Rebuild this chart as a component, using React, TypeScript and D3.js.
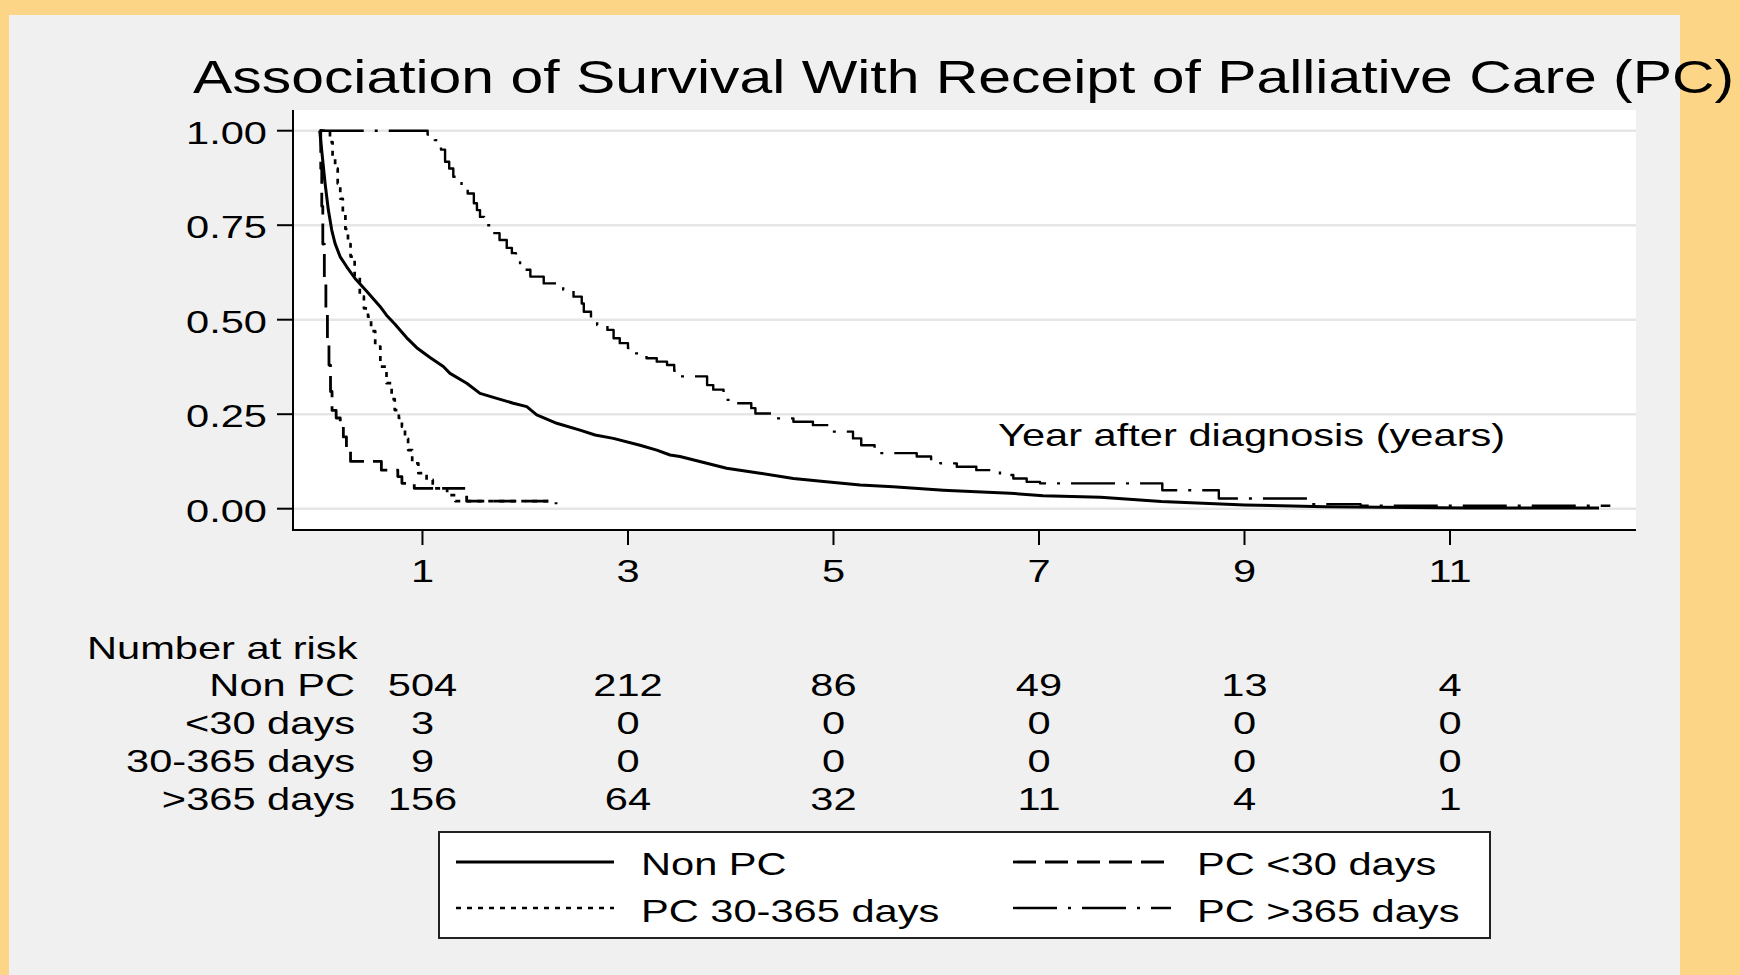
import React from "react";
import * as d3 from "d3";

// ---------- data ----------
const X_TICKS = [1, 3, 5, 7, 9, 11];
const Y_TICKS = [0, 0.25, 0.5, 0.75, 1];
const Y_TICK_LABELS = ["0.00", "0.25", "0.50", "0.75", "1.00"];

const SERIES_NAMES = ["Non PC", "PC <30 days", "PC 30-365 days", "PC >365 days"];
const RISK_GROUPS = ["Non PC", "<30 days", "30-365 days", ">365 days"];
const RISK_NON_PC = [504, 212, 86, 49, 13, 4];
const RISK_LT30 = [3, 0, 0, 0, 0, 0];
const RISK_30_365 = [9, 0, 0, 0, 0, 0];
const RISK_GT365 = [156, 64, 32, 11, 4, 1];

// survival curves: [years, survival]
const NON_PC: [number, number][] = [
  [0, 1], [0.019, 0.949], [0.052, 0.861], [0.084, 0.79], [0.117, 0.737], [0.149, 0.702],
  [0.198, 0.667], [0.263, 0.64], [0.344, 0.609], [0.457, 0.575], [0.587, 0.535],
  [0.65, 0.512], [0.733, 0.488], [0.8, 0.467], [0.847, 0.452], [0.944, 0.426],
  [1.073, 0.4], [1.203, 0.376], [1.268, 0.358], [1.431, 0.332], [1.56, 0.305],
  [1.723, 0.292], [1.884, 0.279], [2.015, 0.27], [2.112, 0.248], [2.307, 0.226],
  [2.533, 0.208], [2.68, 0.195], [2.857, 0.186], [3.117, 0.168], [3.28, 0.155],
  [3.41, 0.142], [3.506, 0.138], [3.96, 0.107], [4.285, 0.094], [4.61, 0.08],
  [4.93, 0.071], [5.26, 0.063], [5.58, 0.058], [6.07, 0.049], [6.39, 0.045],
  [6.72, 0.041], [7.04, 0.034], [7.6, 0.03], [8.19, 0.019], [9.0, 0.01], [9.78, 0.005],
  [11.17, 0.002], [12.45, 0.002],
];
const PC_LT30: [number, number][] = [
  [0, 1], [0.01, 0.9], [0.02, 0.8], [0.03, 0.7], [0.045, 0.6], [0.06, 0.52], [0.075, 0.45],
  [0.09, 0.38], [0.105, 0.31], [0.12, 0.26], [0.16, 0.24], [0.2, 0.22], [0.23, 0.19],
  [0.26, 0.16], [0.3, 0.125], [0.6, 0.102], [0.76, 0.085], [0.8, 0.067], [0.92, 0.054],
  [1.43, 0.02], [2.3, 0.012],
];
const PC_30_365: [number, number][] = [
  [0, 1], [0.1, 0.97], [0.125, 0.93], [0.15, 0.9], [0.175, 0.86], [0.2, 0.82], [0.225, 0.78],
  [0.25, 0.74], [0.275, 0.7], [0.3, 0.667], [0.34, 0.614], [0.39, 0.561], [0.43, 0.53],
  [0.47, 0.508], [0.5, 0.47], [0.54, 0.429], [0.59, 0.376], [0.65, 0.332], [0.7, 0.29],
  [0.73, 0.261], [0.77, 0.24], [0.8, 0.217], [0.83, 0.185], [0.86, 0.155], [0.9, 0.12],
  [0.96, 0.094], [1.04, 0.076], [1.1, 0.054], [1.24, 0.036], [1.32, 0.02], [2.25, 0.018],
];
const PC_GT365: [number, number][] = [
  [0, 1], [1.05, 0.99], [1.12, 0.975], [1.18, 0.95], [1.22, 0.918], [1.26, 0.9], [1.3, 0.878],
  [1.38, 0.855], [1.44, 0.834], [1.5, 0.808], [1.53, 0.79], [1.56, 0.772], [1.6, 0.75],
  [1.66, 0.729], [1.75, 0.711], [1.82, 0.69], [1.87, 0.676], [1.91, 0.655], [1.95, 0.632],
  [2.05, 0.614], [2.18, 0.596], [2.37, 0.579], [2.47, 0.561], [2.55, 0.543], [2.57, 0.521],
  [2.64, 0.5], [2.7, 0.486], [2.8, 0.473], [2.86, 0.451], [2.92, 0.438], [3.0, 0.425],
  [3.05, 0.411], [3.18, 0.398], [3.28, 0.389], [3.38, 0.38], [3.45, 0.365], [3.51, 0.35],
  [3.77, 0.327], [3.83, 0.315], [3.93, 0.288], [4.06, 0.279], [4.2, 0.266], [4.24, 0.252],
  [4.45, 0.239], [4.61, 0.23], [4.8, 0.221], [4.98, 0.204], [5.19, 0.186], [5.27, 0.168],
  [5.4, 0.155], [5.45, 0.147], [5.81, 0.138], [5.95, 0.128], [6.04, 0.12], [6.2, 0.111],
  [6.39, 0.102], [6.62, 0.089], [6.75, 0.08], [6.88, 0.071], [7.01, 0.067], [8.2, 0.049],
  [8.75, 0.027], [9.62, 0.012], [10.13, 0.008], [12.56, 0.008],
];

// ---------- layout ----------
const W = 1740;
const H = 975;
const PLOT_L = 293;
const PLOT_R = 1636;
const PLOT_T = 110;
const PLOT_B = 530;
const FONT = "'Liberation Sans', Arial, Helvetica, sans-serif";
const SX = 1.3;

const xs = d3.scaleLinear().domain([-0.26, 12.81]).range([PLOT_L, PLOT_R]);
const ys = d3.scaleLinear().domain([0, 1]).range([508.7, 130.7]);

const T = ({ x, y, anchor = "start", size = 32, sx = SX, children }: any) => (
  <text
    transform={`translate(${x},${y}) scale(${sx},1)`}
    textAnchor={anchor}
    fontSize={size}
    fontFamily={FONT}
    fill="#000"
  >
    {children}
  </text>
);

const STYLES = [
  { data: NON_PC, curve: d3.curveLinear, dash: "none", width: 3 },
  { data: PC_LT30, curve: d3.curveStepAfter, dash: "23,9", width: 2.8 },
  { data: PC_30_365, curve: d3.curveStepAfter, dash: "5,6", width: 2.7 },
  { data: PC_GT365, curve: d3.curveStepAfter, dash: "44,11,3,11", width: 2.4 },
];

export default function App() {
  const line = (curve: any) =>
    d3
      .line<[number, number]>()
      .x((d) => xs(d[0]))
      .y((d) => ys(d[1]))
      .curve(curve);

  const riskRows = [RISK_NON_PC, RISK_LT30, RISK_30_365, RISK_GT365];
  const rowBase = [696, 734, 772, 810];

  const legendItems = [
    { i: 0, lx: 456, tx: 641, ly: 862, ty: 875 },
    { i: 1, lx: 1013, tx: 1197, ly: 862, ty: 875 },
    { i: 2, lx: 456, tx: 641, ly: 908, ty: 922 },
    { i: 3, lx: 1013, tx: 1197, ly: 908, ty: 922 },
  ];

  return (
    <svg
      width={W}
      height={H}
      style={{ position: "absolute", left: 0, top: 0, display: "block" }}
    >
      <rect x={0} y={0} width={W} height={H} fill="#fcd587" />
      <rect x={9} y={15} width={1680 - 9} height={H - 15} fill="#f0f0f0" />

      {/* plot region */}
      <rect x={PLOT_L} y={PLOT_T} width={PLOT_R - PLOT_L} height={PLOT_B - PLOT_T} fill="#fff" />
      {Y_TICKS.map((v) => (
        <line key={"g" + v} x1={PLOT_L} x2={PLOT_R} y1={ys(v)} y2={ys(v)} stroke="#e6e6e6" strokeWidth={2.6} />
      ))}

      {/* curves */}
      {STYLES.map((s, k) => (
        <path
          key={"c" + k}
          d={line(s.curve)(s.data) || ""}
          fill="none"
          stroke="#000"
          strokeWidth={s.width}
          strokeDasharray={s.dash}
          strokeLinejoin="round"
        />
      ))}

      <T x={998} y={446}>Year after diagnosis (years)</T>

      {/* axes */}
      <line x1={PLOT_L} x2={PLOT_L} y1={PLOT_T} y2={PLOT_B + 1} stroke="#000" strokeWidth={2} />
      <line x1={PLOT_L} x2={PLOT_R} y1={PLOT_B} y2={PLOT_B} stroke="#000" strokeWidth={2} />
      {Y_TICKS.map((v, i) => (
        <g key={"yt" + v}>
          <line x1={277} x2={PLOT_L} y1={ys(v)} y2={ys(v)} stroke="#000" strokeWidth={2} />
          <T x={267} y={ys(v) + 13} anchor="end">{Y_TICK_LABELS[i]}</T>
        </g>
      ))}
      {X_TICKS.map((v) => (
        <g key={"xt" + v}>
          <line x1={xs(v)} x2={xs(v)} y1={PLOT_B} y2={545} stroke="#000" strokeWidth={2} />
          <T x={xs(v)} y={582} anchor="middle">{String(v)}</T>
        </g>
      ))}

      {/* title */}
      <T x={193} y={93} size={46} sx={1.28}>Association of Survival With Receipt of Palliative Care (PC)</T>

      {/* number at risk */}
      <T x={87} y={659}>Number at risk</T>
      {RISK_GROUPS.map((g, r) => (
        <g key={"r" + r}>
          <T x={355} y={rowBase[r]} anchor="end">{g}</T>
          {riskRows[r].map((n, c) => (
            <T key={"n" + c} x={xs(X_TICKS[c])} y={rowBase[r]} anchor="middle">{String(n)}</T>
          ))}
        </g>
      ))}

      {/* legend */}
      <rect x={439} y={832} width={1490 - 439} height={938 - 832} fill="#fff" stroke="#222" strokeWidth={2} />
      {legendItems.map((it) => {
        const s = STYLES[it.i];
        return (
          <g key={"l" + it.i}>
            <line
              x1={it.lx}
              x2={it.lx + 158}
              y1={it.ly}
              y2={it.ly}
              stroke="#000"
              strokeWidth={s.width}
              strokeDasharray={s.dash}
            />
            <T x={it.tx} y={it.ty}>{SERIES_NAMES[it.i]}</T>
          </g>
        );
      })}
    </svg>
  );
}
